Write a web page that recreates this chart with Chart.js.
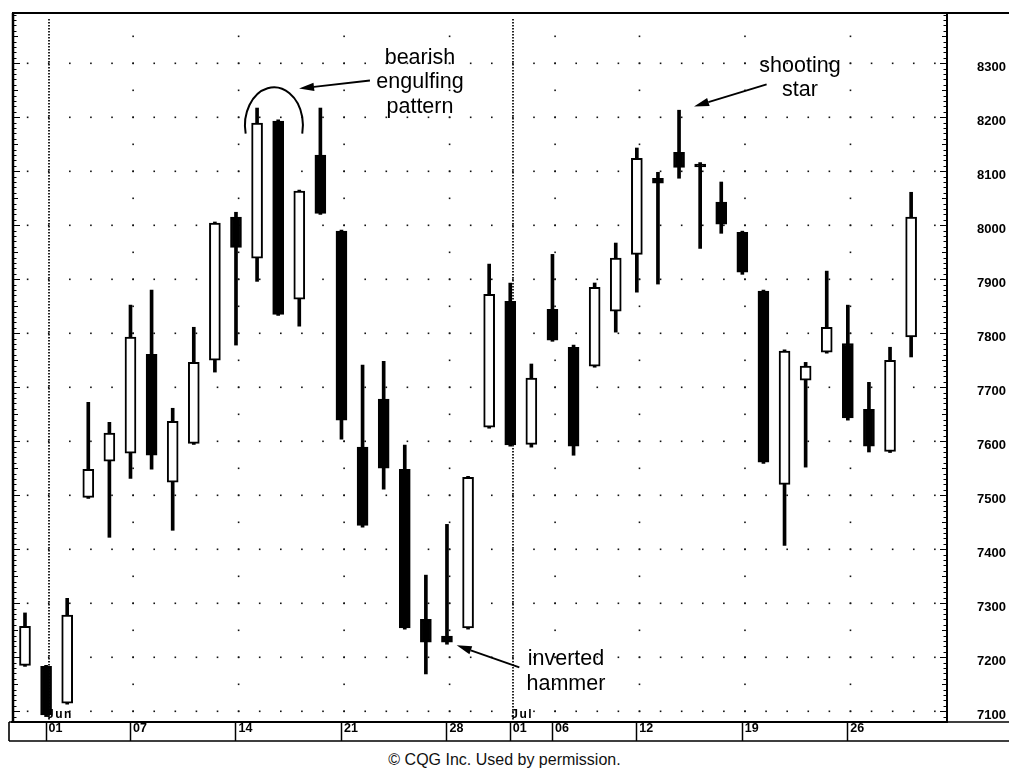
<!DOCTYPE html>
<html>
<head>
<meta charset="utf-8">
<script src="https://cdn.jsdelivr.net/npm/chart.js@4.4.1/dist/chart.umd.min.js"></script>
<style>
  html, body { margin: 0; padding: 0; background: #fff; }
  #wrap { position: relative; width: 1009px; height: 746px; }
  #cap { width: 1009px; text-align: center; font: 16px "Liberation Sans", Arial, sans-serif; color: #111; margin-top: 5px; }
</style>
</head>
<body>
<div id="wrap"><canvas id="c"></canvas></div>
<div id="cap">© CQG Inc. Used by permission.</div>
<script>
// ---- data (1999 daily session) ----
const days = ['May 28','Jun 1','Jun 2','Jun 3','Jun 4','Jun 7','Jun 8','Jun 9','Jun 10','Jun 11',
  'Jun 14','Jun 15','Jun 16','Jun 17','Jun 18','Jun 21','Jun 22','Jun 23','Jun 24','Jun 25',
  'Jun 28','Jun 29','Jun 30','Jul 1','Jul 2','Jul 6','Jul 7','Jul 8','Jul 9',
  'Jul 12','Jul 13','Jul 14','Jul 15','Jul 16','Jul 19','Jul 20','Jul 21','Jul 22','Jul 23',
  'Jul 26','Jul 27','Jul 28','Jul 29'];
const openP  = [7185,7183,7115,7496,7563,7578,7761,7524,7596,7750,
  8015,7939,8193,7863,8130,7989,7589,7678,7548,7270,
  7239,7254,7626,7859,7594,7844,7774,7739,7841,
  7946,8087,8135,8113,8043,7987,7878,7520,7713,7765,
  7781,7659,7581,7793];
const highP  = [7282,7185,7309,7672,7635,7852,7880,7661,7811,8006,
  8024,8217,8195,8065,8217,7991,7741,7748,7593,7352,
  7446,7535,7928,7893,7743,7946,7778,7893,7967,
  8143,8098,8213,8116,8080,7989,7880,7769,7746,7915,
  7852,7709,7774,8061];
const lowP   = [7183,7090,7113,7494,7422,7531,7548,7435,7594,7728,
  7778,7896,7833,7813,8020,7604,7441,7511,7252,7169,
  7224,7252,7624,7591,7589,7785,7574,7737,7802,
  7876,7891,8087,7957,7985,7909,7559,7407,7552,7763,
  7639,7580,7579,7756];
const closeP = [7257,7093,7278,7548,7615,7793,7574,7637,7746,8004,
  7959,8189,7835,8063,8022,7639,7444,7550,7254,7228,
  7228,7533,7872,7593,7717,7787,7591,7885,7939,
  8124,8078,8107,8108,8002,7913,7561,7767,7739,7811,
  7643,7591,7750,8015];

const priceTicks = [7100,7200,7300,7400,7500,7600,7700,7800,7900,8000,8100,8200,8300];
const dateTickIdx = [1,5,10,15,20,23,25,29,34,39];
const dateTickLabels = ['01','07','14','21','28','01','06','12','19','26'];
const monthIdx = [1,23];
const monthLabels = ['Jun','Jul'];
const weekIdx = [5,10,15,20,25,29,34,39];

// annotation anchors in data units (index, price)
const notes = [
  { lines: ['bearish','engulfing','pattern'], x: 18.72, y: 8299 },
  { lines: ['shooting','star'], x: 36.73, y: 8284 },
  { lines: ['inverted','hammer'], x: 25.64, y: 7185 }
];
const arrows = [
  { from: [16.35, 8268], to: [12.99, 8253] },
  { from: [35.15, 8261], to: [31.71, 8220] },
  { from: [23.43, 7181], to: [20.46, 7222] }
];
const arch = { x: 11.8, y: 8185, rx: 1.374, ry: 70.4 };

// ---- axis extents ----
const xMin = -0.616, xMax = 43.70;
const yMin = 7080, yMax = 8393;
const slotCount = 44;      // dotted row positions (one per session incl. one spare)
const dotShift = 0.12;     // grid dots sit a hair right of the session centre
const monthShift = 0.15;

const idx = days.map((_, i) => i);

const decor = {
  id: 'decor',
  beforeDatasetsDraw(chart) {
    const { ctx, chartArea: a, scales: { x, y } } = chart;
    ctx.save();
    ctx.fillStyle = '#111';
    // horizontal dotted rows every 100
    for (const v of priceTicks) {
      const py = y.getPixelForValue(v);
      for (let i = 0; i < slotCount; i++) {
        const px = x.getPixelForValue(i + dotShift);
        ctx.fillRect(px - 0.7, py - 0.7, 1.6, 1.6);
      }
    }
    // weekly dotted columns every 50
    for (const w of weekIdx) {
      const px = x.getPixelForValue(w + dotShift);
      for (let v = 7100; v <= 8350; v += 50) {
        const py = y.getPixelForValue(v);
        ctx.fillRect(px - 0.7, py - 0.7, 1.6, 1.6);
      }
    }
    // month separators: dense dotted lines
    ctx.strokeStyle = '#000';
    ctx.lineWidth = 1.7;
    ctx.setLineDash([1.5, 1.5]);
    for (const m of monthIdx) {
      const px = Math.round(x.getPixelForValue(m + monthShift));
      ctx.beginPath();
      ctx.moveTo(px, a.top + 6);
      ctx.lineTo(px, a.bottom);
      ctx.stroke();
    }
    ctx.restore();
  },
  afterDraw(chart) {
    const { ctx, chartArea: a, scales: { x, y } } = chart;
    const W = chart.width;
    ctx.save();
    ctx.strokeStyle = '#000';
    ctx.fillStyle = '#000';
    // frame
    ctx.lineWidth = 2;
    ctx.beginPath();
    ctx.moveTo(a.left, a.top); ctx.lineTo(W, a.top);
    ctx.stroke();
    ctx.lineWidth = 2.5;
    ctx.beginPath();
    ctx.moveTo(a.left + 1, a.top); ctx.lineTo(a.left + 1, a.bottom);
    ctx.stroke();
    // date band
    ctx.lineWidth = 1.6;
    ctx.beginPath();
    ctx.moveTo(a.left - 3, a.bottom); ctx.lineTo(W, a.bottom);
    ctx.moveTo(a.left - 3, a.bottom + 19); ctx.lineTo(W, a.bottom + 19);
    ctx.moveTo(a.left - 3, a.bottom); ctx.lineTo(a.left - 3, a.bottom + 19);
    ctx.stroke();
    // rulers on both vertical edges (every 10 points)
    ctx.lineWidth = 1.2;
    ctx.beginPath();
    for (let v = yMin; v <= yMax; v += 10) {
      const py = Math.round(y.getPixelForValue(v)) + 0.5;
      const len = v % 100 === 0 ? 7 : (v % 50 === 0 ? 5 : 3.5);
      ctx.moveTo(a.left + 1, py); ctx.lineTo(a.left + 1 + len, py);
      ctx.moveTo(a.right, py); ctx.lineTo(a.right - len, py);
    }
    ctx.stroke();
    // month names
    ctx.font = 'bold 12px "Liberation Sans", Arial, sans-serif';
    try { ctx.letterSpacing = '1.5px'; } catch (e) {}
    ctx.textAlign = 'left';
    ctx.textBaseline = 'alphabetic';
    monthIdx.forEach((m, k) => {
      ctx.fillText(monthLabels[k], x.getPixelForValue(m) + 1, a.bottom - 4);
    });
    try { ctx.letterSpacing = '0px'; } catch (e) {}
    // annotations
    ctx.font = '21.5px "Liberation Sans", Arial, sans-serif';
    ctx.textAlign = 'center';
    for (const n of notes) {
      const px = x.getPixelForValue(n.x), py = y.getPixelForValue(n.y);
      n.lines.forEach((t, k) => ctx.fillText(t, px, py + k * 24.5));
    }
    ctx.lineWidth = 1.8;
    for (const ar of arrows) {
      const x1 = x.getPixelForValue(ar.from[0]), y1 = y.getPixelForValue(ar.from[1]);
      const x2 = x.getPixelForValue(ar.to[0]), y2 = y.getPixelForValue(ar.to[1]);
      const ang = Math.atan2(y2 - y1, x2 - x1);
      const hl = 15, hw = 4.2;
      const bx = x2 - hl * Math.cos(ang), by = y2 - hl * Math.sin(ang);
      ctx.beginPath();
      ctx.moveTo(x1, y1); ctx.lineTo(bx, by);
      ctx.stroke();
      ctx.beginPath();
      ctx.moveTo(x2, y2);
      ctx.lineTo(bx + hw * Math.sin(ang), by - hw * Math.cos(ang));
      ctx.lineTo(bx - hw * Math.sin(ang), by + hw * Math.cos(ang));
      ctx.closePath();
      ctx.fill();
    }
    // arch over the engulfing pair
    const cx = x.getPixelForValue(arch.x), cy = y.getPixelForValue(arch.y);
    const rx = x.getPixelForValue(arch.x + arch.rx) - cx;
    const ry = y.getPixelForValue(arch.y - arch.ry) - cy;
    ctx.lineWidth = 2;
    ctx.beginPath();
    ctx.ellipse(cx, cy, rx, ry, 0, Math.PI * 0.93, Math.PI * 2.07);
    ctx.stroke();
    ctx.restore();
  }
};

new Chart(document.getElementById('c'), {
  type: 'bar',
  data: {
    datasets: [
      {
        label: 'range',
        data: idx.map(i => ({ x: i, y: [lowP[i], highP[i]] })),
        backgroundColor: '#000',
        barThickness: 3,
        grouped: false,
        order: 2
      },
      {
        label: 'body',
        data: idx.map(i => ({ x: i, y: [openP[i], closeP[i]] })),
        backgroundColor: idx.map(i => closeP[i] >= openP[i] ? '#fff' : '#000'),
        borderColor: '#000',
        borderWidth: 2,
        borderSkipped: false,
        barThickness: 11,
        grouped: false,
        order: 1
      }
    ]
  },
  options: {
    responsive: true,
    maintainAspectRatio: false,
    animation: false,
    events: [],
    layout: { padding: { top: 13, left: 12, right: 0, bottom: 5 } },
    plugins: { legend: { display: false }, tooltip: { enabled: false }, title: { display: false } },
    scales: {
      x: {
        type: 'linear',
        position: 'bottom',
        min: xMin, max: xMax,
        bounds: 'data',
        offset: false,
        afterBuildTicks: s => { s.ticks = dateTickIdx.map(v => ({ value: v })); },
        afterFit: s => { s.height = 19; s.paddingLeft = 0; s.paddingRight = 0; },
        ticks: {
          autoSkip: false, maxRotation: 0, minRotation: 0,
          align: 'start', labelOffset: 2.5, padding: -20,
          color: '#000',
          font: { family: '"Liberation Sans", Arial, sans-serif', size: 12.5, weight: 'bold' },
          callback: (v, i) => dateTickLabels[i]
        },
        grid: { drawOnChartArea: false, offset: false, tickLength: 19, tickColor: '#000', tickWidth: 1.5 },
        border: { display: true, color: '#000', width: 2 }
      },
      y: {
        type: 'linear',
        position: 'right',
        min: yMin, max: yMax,
        bounds: 'data',
        afterBuildTicks: s => { s.ticks = priceTicks.map(v => ({ value: v })); },
        afterFit: s => { s.width = 62; s.paddingTop = 0; s.paddingBottom = 0; },
        ticks: {
          padding: 30, labelOffset: 4, color: '#000',
          font: { family: '"Liberation Sans", Arial, sans-serif', size: 13, weight: 'bold' },
          callback: v => String(v)
        },
        grid: { drawOnChartArea: false, drawTicks: false },
        border: { display: true, color: '#000', width: 2 }
      }
    }
  },
  plugins: [decor]
});
</script>
</body>
</html>
